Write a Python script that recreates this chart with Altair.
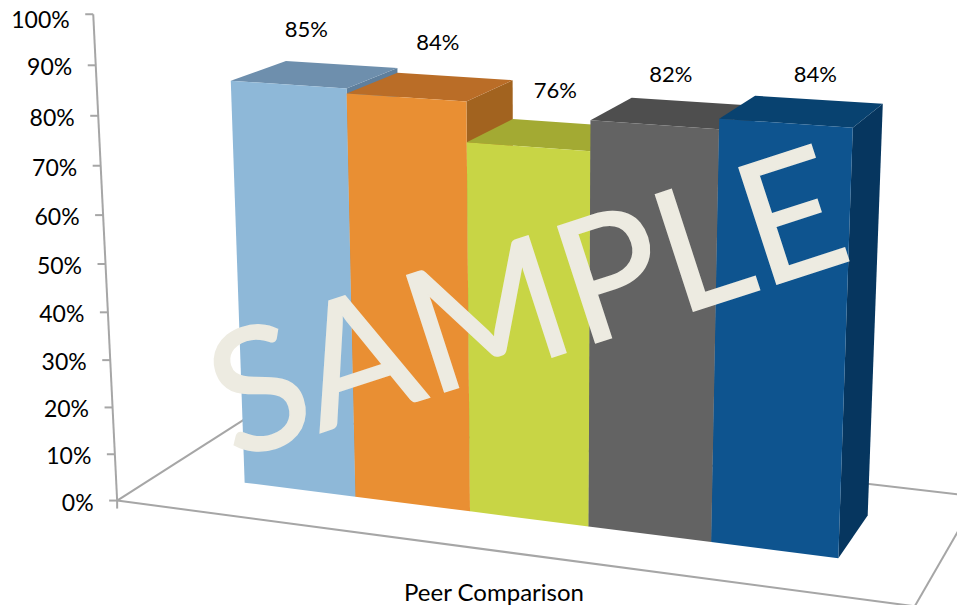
import numpy as np
import pandas as pd
import altair as alt

# ---- chart values ----
VALUES = [85, 84, 76, 82, 84]
VALUE_LABELS = ["85%", "84%", "76%", "82%", "84%"]
TICKS = [0, 10, 20, 30, 40, 50, 60, 70, 80, 90, 100]
TICK_LABELS = ["0%", "10%", "20%", "30%", "40%", "50%", "60%", "70%", "80%", "90%", "100%"]
CATEGORY = "Peer Comparison"
WATERMARK = "SAMPLE"

# ---- styles ----
FRONT = ["#8EB8D8", "#E98F33", "#C8D545", "#636363", "#0E548F"]
TOP = ["#6E8FAD", "#BA6D27", "#A3AA33", "#4E4E4E", "#084270"]
SIDE = ["#5F7F9C", "#A2631F", "#8C9329", "#404040", "#06365F"]
GRID = "#A6A6A6"
FONT = "Lato"

# ---- camera: world (column position, depth, percent) -> picture ----
CALIBRATION = [
    (0, 0, 0, 245, 483), (1, 0, 0, 355, 497), (2, 0, 0, 470, 511), (3, 0, 0, 589, 526),
    (4, 0, 0, 711, 543), (5, 0, 0, 838, 558), (5, 1, 0, 868, 515),
    (0, 0, 85, 231, 81), (1, 0, 85, 347, 88), (1, 0, 84, 347, 93), (2, 0, 84, 466, 102),
    (2, 0, 76, 466, 142), (3, 0, 76, 590, 151), (3, 0, 82, 591, 120), (4, 0, 82, 719, 129),
    (4, 0, 84, 719, 119), (5, 0, 84, 853, 128), (5, 1, 84, 883, 104), (4, 1, 84, 755, 96),
    (3, 1, 82, 632, 98), (2, 1, 84, 513, 80), (2, 1, 76, 512, 119), (1, 1, 85, 397, 68),
    (0, 1, 85, 286, 61),
]
rows = []
for x, y, z, u, v in CALIBRATION:
    X = [x, y, z / 100, 1]
    rows.append(X + [0, 0, 0, 0] + [-u / 1000 * c for c in X])
    rows.append([0, 0, 0, 0] + X + [-v / 1000 * c for c in X])
CAM = np.linalg.svd(np.array(rows, dtype=float))[2][-1].reshape(3, 4)


def project(x, y, z):
    p = CAM @ np.array([x, y, z / 100, 1.0])
    return float(p[0] / p[2] * 1000), float(p[1] / p[2] * 1000)


# floor extent in world units
LEFT, RIGHT, NEAR, FAR = -0.77, 5.74, -0.75, 1.75

polys, pid = [], 0


def add(face, color):
    global pid
    pts = list(face) + [face[0]]
    for k, w in enumerate(pts):
        u, v = project(*w)
        polys.append({"pid": pid, "k": k, "px": u, "py": v, "c": color})
    pid += 1


for i, val in enumerate(VALUES):
    add([(i + 1, 0, 0), (i + 1, 1, 0), (i + 1, 1, val), (i + 1, 0, val)], SIDE[i])
    add([(i, 0, val), (i, 1, val), (i + 1, 1, val), (i + 1, 0, val)], TOP[i])
    add([(i, 0, 0), (i + 1, 0, 0), (i + 1, 0, val), (i, 0, val)], FRONT[i])
poly_df = pd.DataFrame(polys)

lines, lid = [], 0


def seg(a, b):
    global lid
    lines.append({"lid": lid, "k": 0, "px": a[0], "py": a[1]})
    lines.append({"lid": lid, "k": 1, "px": b[0], "py": b[1]})
    lid += 1


A = project(LEFT, NEAR, 0)
B = project(RIGHT, NEAR, 0)
seg(A, B)
seg(A, project(LEFT, FAR, 0))
seg(B, project(RIGHT, FAR, 0))
seg(project(LEFT, FAR, 0), project(RIGHT, FAR, 0))
seg(A, project(LEFT, NEAR, 100))
seg(A, (A[0], A[1] + 8))
seg(B, (B[0], B[1] + 8))
tick_rows = []
for t, lab in zip(TICKS, TICK_LABELS):
    u, v = project(LEFT, NEAR, t)
    seg((u - 8, v), (u, v))
    tick_rows.append({"px": u - 23.5, "py": max(v + 3, 21), "t": lab})
line_df = pd.DataFrame(lines)
tick_df = pd.DataFrame(tick_rows)

LABEL_SHIFT = [(-9, -44), (7, -44), (5, -44), (-3, -38), (13, -36)]
val_rows = []
for i, (val, lab) in enumerate(zip(VALUES, VALUE_LABELS)):
    u, v = project(i + 0.5, 0.5, val)
    val_rows.append({"px": u + LABEL_SHIFT[i][0], "py": v + LABEL_SHIFT[i][1], "t": lab})
val_df = pd.DataFrame(val_rows)

cat_df = pd.DataFrame([{"px": 494, "py": 594, "t": CATEGORY}])
wm_df = pd.DataFrame([{"px": 529, "py": 311, "t": WATERMARK}])

xs = alt.X("px:Q", scale=alt.Scale(domain=[8, 957], nice=False, zero=False), axis=None)
ys = alt.Y("py:Q", scale=alt.Scale(domain=[605, 8], nice=False, zero=False), axis=None)

frame = alt.Chart(line_df).mark_line(stroke=GRID, strokeWidth=2, clip=True).encode(
    x=xs, y=ys, detail="lid:N", order="k:Q")
bars = alt.Chart(poly_df).mark_line(strokeWidth=0).encode(
    x=xs, y=ys, detail="pid:N", order="k:Q", fill=alt.Fill("c:N", scale=None))
tick_text = alt.Chart(tick_df).mark_text(align="right", baseline="middle", font=FONT, fontSize=23, color="#000000").encode(
    x=xs, y=ys, text="t:N")
val_text = alt.Chart(val_df).mark_text(align="center", baseline="middle", font=FONT, fontSize=22, color="#000000").encode(
    x=xs, y=ys, text="t:N")
cat_text = alt.Chart(cat_df).mark_text(align="center", baseline="middle", font=FONT, fontSize=24, color="#000000").encode(
    x=xs, y=ys, text="t:N")
wm_text = alt.Chart(wm_df).mark_text(align="center", baseline="middle", font=FONT, fontSize=171, angle=342,
                                     color="#EDEBE1", stroke="#EDEBE1", strokeWidth=1.5).encode(
    x=xs, y=ys, text="t:N")

chart = alt.layer(frame, bars, tick_text, val_text, cat_text, wm_text).properties(
    width=949, height=597, padding=0, autosize=alt.AutoSizeParams(type="none")
).configure_view(stroke=None)
chart.save("out.html", embed_options={"renderer": "svg", "actions": False})
